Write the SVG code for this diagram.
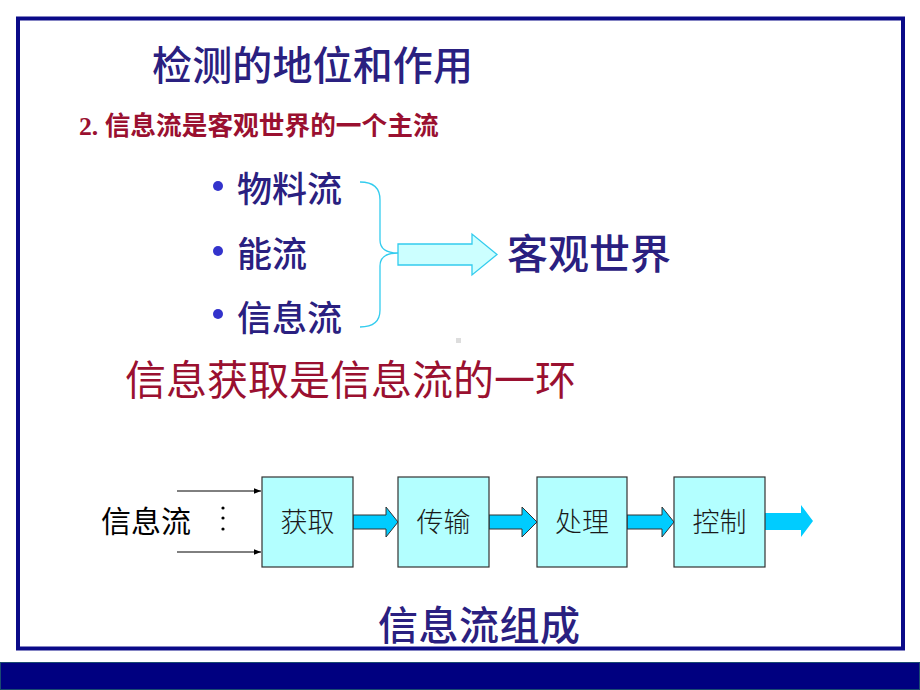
<svg xmlns="http://www.w3.org/2000/svg" width="920" height="690" viewBox="0 0 920 690">
<defs>
<style>
.cjk{font-family:"Noto Sans CJK SC","Liberation Sans",sans-serif}
.navy{fill:#2a2080;font-weight:500}
.red{fill:#9a1030}
.box{fill:#b3ffff;stroke:#333333;stroke-width:1.2}
.btxt{font-family:"Noto Sans CJK SC",sans-serif;font-size:27px;fill:#1a1a1a;text-anchor:middle;font-weight:300}
.flow{fill:#00ccff;stroke:#333333;stroke-width:1}
</style>
<marker id="ah" viewBox="0 0 10 10" refX="10" refY="5" markerWidth="7" markerHeight="7" markerUnits="userSpaceOnUse" orient="auto"><path d="M0,1 L10,5 L0,9 Z" fill="#000"/></marker>
</defs>
<rect width="920" height="690" fill="#ffffff"/>
<rect x="18" y="18.5" width="885" height="630" fill="none" stroke="#0a0a88" stroke-width="4"/>
<rect x="0.5" y="662.5" width="919" height="27" fill="#000080" stroke="#1a4a70" stroke-width="1"/>

<text class="cjk navy" x="152" y="80" font-size="40" textLength="321">检测的地位和作用</text>
<text class="red" x="79" y="135" font-size="25.7" font-weight="bold"><tspan font-family="Liberation Serif, serif">2. </tspan><tspan font-family="Noto Sans CJK SC, sans-serif">信息流是客观世界的一个主流</tspan></text>

<g id="bullets">
<circle cx="218" cy="186" r="5" fill="#3333cc"/>
<circle cx="218" cy="251" r="5" fill="#3333cc"/>
<circle cx="218" cy="314" r="5" fill="#3333cc"/>
<text class="cjk navy" x="237" y="202" font-size="35">物料流</text>
<text class="cjk navy" x="237" y="267" font-size="35">能流</text>
<text class="cjk navy" x="237" y="331" font-size="35">信息流</text>
</g>

<g id="brace">
<path d="M360,182 Q380,182 380,200 L380,240 Q380,253 398,253 Q380,253 380,266 L380,310 Q380,327 360,327" fill="none" stroke="#33ccee" stroke-width="1.3"/>
</g>
<g id="bigarrow">
<path d="M398,244 L472,244 L472,234 L497,254.5 L472,275 L472,265 L398,265 Z" fill="#ccffff" stroke="#33ccee" stroke-width="1.3"/>
</g>
<text id="world" class="cjk navy" x="507" y="269" font-size="41">客观世界</text>
<rect x="456" y="338" width="5" height="5" fill="#dddddd"/>

<text class="cjk red" x="125" y="395" font-size="41" textLength="451">信息获取是信息流的一环</text>

<g id="source">
<text class="cjk" x="101" y="532" font-size="30" fill="#000">信息流</text>
<circle cx="223" cy="508" r="1.6" fill="#000"/>
<circle cx="223" cy="518" r="1.6" fill="#000"/>
<circle cx="223" cy="529" r="1.6" fill="#000"/>
</g>

<g id="connectors">
<line x1="177" y1="491" x2="261" y2="491" stroke="#000" stroke-width="1" marker-end="url(#ah)"/>
<line x1="177" y1="552" x2="261" y2="552" stroke="#000" stroke-width="1" marker-end="url(#ah)"/>
<path class="flow" d="M353,515 L386,515 L386,507 L398,522 L386,537 L386,529 L353,529 Z"/>
<path class="flow" d="M489,515 L522,515 L522,507 L537,522 L522,537 L522,529 L489,529 Z"/>
<path class="flow" d="M627,515 L662,515 L662,507 L674,522 L662,537 L662,529 L627,529 Z"/>
<path d="M765,513 L801,513 L801,505 L813,521 L801,537 L801,530 L765,530 Z" fill="#00ccff"/>
</g>

<g id="n1"><rect class="box" x="262" y="477" width="91" height="90"/><text class="btxt" x="307.5" y="532">获取</text></g>
<g id="n2"><rect class="box" x="398" y="477" width="91" height="90"/><text class="btxt" x="443.5" y="532">传输</text></g>
<g id="n3"><rect class="box" x="537" y="477" width="90" height="90"/><text class="btxt" x="582" y="532">处理</text></g>
<g id="n4"><rect class="box" x="674" y="477" width="91" height="90"/><text class="btxt" x="719.5" y="532">控制</text></g>

<text class="cjk navy" x="378" y="640" font-size="40" textLength="202">信息流组成</text>
</svg>
